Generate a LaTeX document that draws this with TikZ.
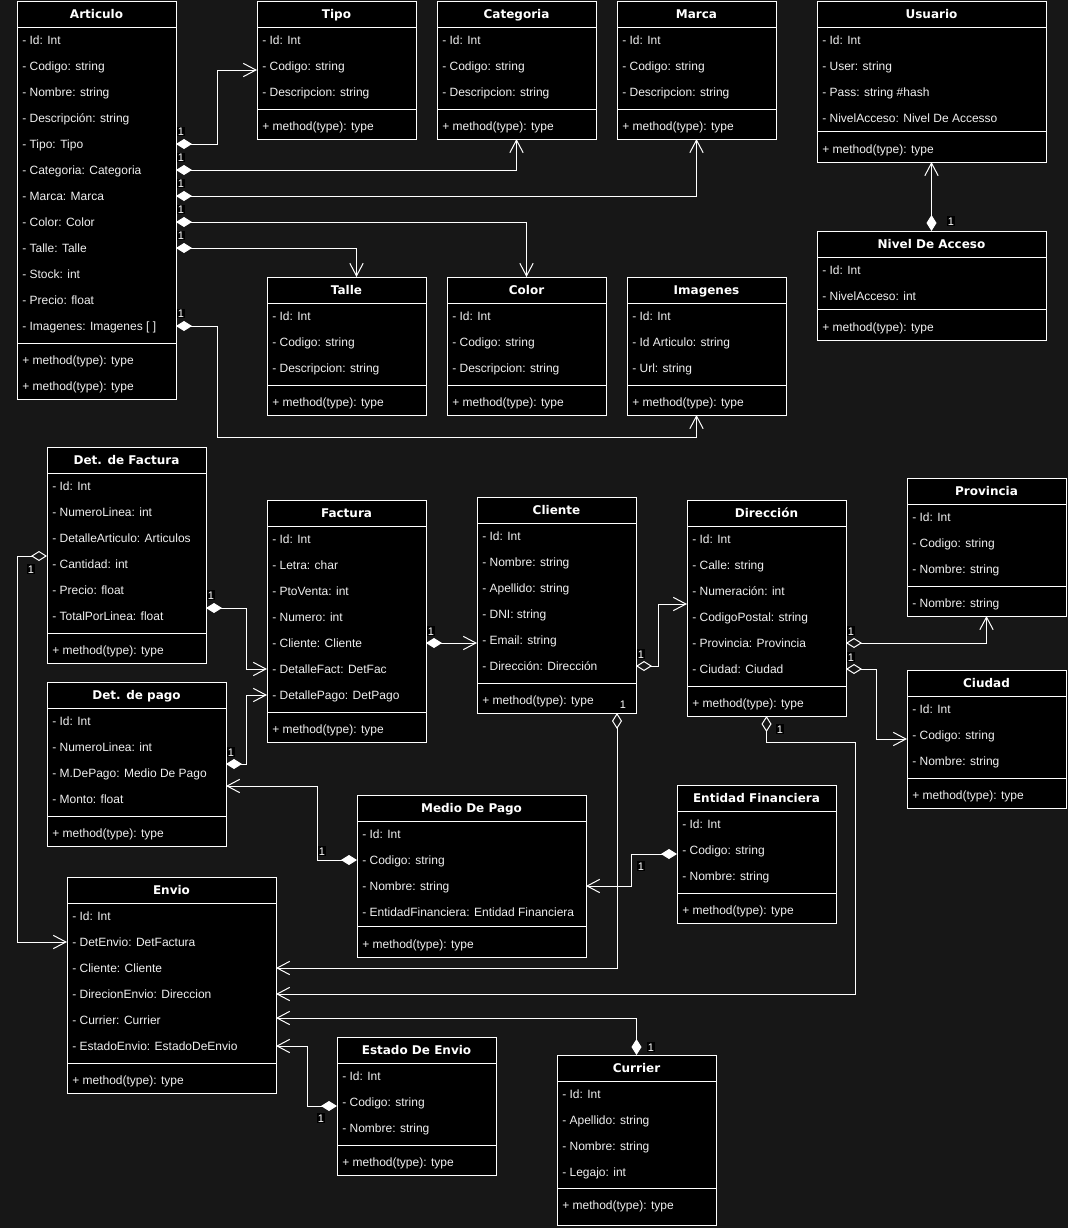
\documentclass[tikz,border=0pt]{standalone}
\usepackage{fontspec}
\setmainfont{Liberation Sans}
\newfontfamily\headfont{DejaVu Sans}
\usetikzlibrary{arrows.meta,calc}

\definecolor{canvas}{HTML}{171717}
\definecolor{ink}{HTML}{F0F0F0}

% per-class layout options: separator offset, gap before methods, extra height
\pgfkeys{/uml/.cd,
  sep/.store in=\umlsep,
  gap/.store in=\umlgap,
  extra/.store in=\umlextra}

\tikzset{
  classbox/.style={draw=white, fill=black, line width=0.75pt, inner sep=0pt,
    outer sep=0pt, anchor=north west},
  divider/.style={draw=white, line width=0.75pt},
  headtext/.style={text=white, font={\headfont\bfseries\fontsize{9pt}{11pt}\selectfont},
    inner sep=0pt, text height=6.5pt, text depth=0pt},
  rowtext/.style={text=ink, font={\fontsize{9pt}{11pt}\selectfont}, inner sep=0pt,
    anchor=west, text height=6.5pt, text depth=0pt},
  link/.style={draw=white, line width=0.75pt},
  comp/.style={link,
    arrows={Diamond[length=12pt,width=7.5pt]-Straight Barb[length=9.5pt,width=10pt]}},
  aggr/.style={link,
    arrows={Diamond[open,length=12pt,width=7.5pt]-Straight Barb[length=9.5pt,width=10pt]}},
  mult/.style={text=white, fill=black, font={\fontsize{8.25pt}{10pt}\selectfont},
    inner sep=0.6pt, text height=6pt, text depth=0pt},
}

% \umlclass[options]{name}{left}{top}{width}{title}{attributes}{methods}
\newcommand\umlclass[8][]{%
  \begingroup
  \pgfkeys{/uml/.cd, sep=4, gap=8, extra=0, #1}%
  \foreach \a [count=\k] in {#7} {\xdef\umlnattr{\k}}%
  \foreach \a [count=\k] in {#8} {\xdef\umlnmeth{\k}}%
  \pgfmathsetmacro\umlrows{#4+26+26*\umlnattr}%
  \pgfmathsetmacro\umlmstart{\umlrows+\umlgap}%
  \pgfmathsetmacro\umlbottom{\umlmstart+26*\umlnmeth+\umlextra}%
  \pgfmathsetmacro\umlheight{\umlbottom-#4}%
  \node[classbox, minimum width=#5*0.75pt, minimum height=\umlheight*0.75pt] (#2) at (#3,#4) {};
  \draw[divider] (#3,#4+26) -- ++(#5,0);
  \draw[divider] (#3,\umlrows+\umlsep) -- ++(#5,0);
  \node[headtext] (#2-t) at (#3+#5/2,#4+13) {#6};
  \foreach \a [count=\i] in {#7} {\node[rowtext] (#2-a\i) at (#3+5,{#4+13+26*\i}) {\a};}
  \foreach \a [count=\i] in {#8} {\node[rowtext] (#2-m\i) at (#3+5,{\umlmstart-13+26*\i}) {\a};}
  \endgroup
}

\def\mt{+ method(type): type}

\begin{document}
\begin{tikzpicture}[x=0.75pt, y=-0.75pt]
\fill[canvas] (0,0) rectangle (1068,1228);
\useasboundingbox (0,0) rectangle (1068,1228);

% ---------- catalogue ----------
\umlclass{art}{17}{1}{159}{Articulo}
  {- Id: Int, - Codigo: string, - Nombre: string, - Descripción: string, - Tipo: Tipo,
   - Categoria: Categoria, - Marca: Marca, - Color: Color, - Talle: Talle, - Stock: int,
   - Precio: float, {- Imagenes: Imagenes [ ]}}
  {\mt, \mt}
\umlclass{tipo}{257}{1}{159}{Tipo}{- Id: Int, - Codigo: string, - Descripcion: string}{\mt}
\umlclass{cat}{437}{1}{159}{Categoria}{- Id: Int, - Codigo: string, - Descripcion: string}{\mt}
\umlclass{marca}{617}{1}{159}{Marca}{- Id: Int, - Codigo: string, - Descripcion: string}{\mt}
\umlclass[sep=0,gap=5]{usu}{817}{1}{229}{Usuario}
  {- Id: Int, - User: string, - Pass: string \#hash, - NivelAcceso: Nivel De Accesso}{\mt}
\umlclass[sep=0,gap=5]{niv}{817}{231}{229}{Nivel De Acceso}{- Id: Int, - NivelAcceso: int}{\mt}
\umlclass{talle}{267}{277}{159}{Talle}{- Id: Int, - Codigo: string, - Descripcion: string}{\mt}
\umlclass{colr}{447}{277}{159}{Color}{- Id: Int, - Codigo: string, - Descripcion: string}{\mt}
\umlclass{img}{627}{277}{159}{Imagenes}{- Id: Int, - Id Articulo: string, - Url: string}{\mt}

% ---------- billing ----------
\umlclass{detfac}{47}{447}{159}{Det. de Factura}
  {- Id: Int, - NumeroLinea: int, - DetalleArticulo: Articulos, - Cantidad: int,
   - Precio: float, - TotalPorLinea: float}{\mt}
\umlclass{fac}{267}{500}{159}{Factura}
  {- Id: Int, - Letra: char, - PtoVenta: int, - Numero: int, - Cliente: Cliente,
   - DetalleFact: DetFac, - DetallePago: DetPago}{\mt}
\umlclass{cli}{477}{497}{159}{Cliente}
  {- Id: Int, - Nombre: string, - Apellido: string, - DNI: string, - Email: string,
   - Dirección: Dirección}{\mt}
\umlclass{dir}{687}{500}{159}{Dirección}
  {- Id: Int, - Calle: string, - Numeración: int, - CodigoPostal: string,
   - Provincia: Provincia, - Ciudad: Ciudad}{\mt}
\umlclass{prov}{907}{478}{159}{Provincia}{- Id: Int, - Codigo: string, - Nombre: string}{- Nombre: string}
\umlclass{ciu}{907}{670}{159}{Ciudad}{- Id: Int, - Codigo: string, - Nombre: string}{\mt}
\umlclass{detpago}{47}{682}{179}{Det. de pago}
  {- Id: Int, - NumeroLinea: int, - M.DePago: Medio De Pago, - Monto: float}{\mt}
\umlclass[sep=1,gap=6]{medio}{357}{795}{229}{Medio De Pago}
  {- Id: Int, - Codigo: string, - Nombre: string, - EntidadFinanciera: Entidad Financiera}{\mt}
\umlclass{ent}{677}{785}{159}{Entidad Financiera}{- Id: Int, - Codigo: string, - Nombre: string}{\mt}

% ---------- shipping ----------
\umlclass{env}{67}{877}{209}{Envio}
  {- Id: Int, - DetEnvio: DetFactura, - Cliente: Cliente, - DirecionEnvio: Direccion,
   - Currier: Currier, - EstadoEnvio: EstadoDeEnvio}{\mt}
\umlclass{est}{337}{1037}{159}{Estado De Envio}{- Id: Int, - Codigo: string, - Nombre: string}{\mt}
\umlclass[sep=3,gap=7,extra=7]{cur}{557}{1055}{159}{Currier}
  {- Id: Int, - Apellido: string, - Nombre: string, - Legajo: int}{\mt}

% ---------- connector start points ----------
\coordinate (s1) at (art.east |- art-a5);
\coordinate (s2) at (art.east |- art-a6);
\coordinate (s3) at (art.east |- art-a7);
\coordinate (s4) at (art.east |- art-a8);
\coordinate (s5) at (art.east |- art-a9);
\coordinate (s6) at (art.east |- art-a12);
\coordinate (s8) at ($(detfac.east |- detfac-a6)+(0,-8)$);
\coordinate (s9) at ($(detpago.east |- detpago-a3)+(0,-9)$);
\coordinate (s10) at (medio.west |- medio-a2);
\coordinate (s11) at (fac.east |- fac-a5);
\coordinate (s12) at (cli.east |- cli-a6);
\coordinate (s13) at (dir.east |- dir-a5);
\coordinate (s14) at (dir.east |- dir-a6);
\coordinate (s15) at ($(cli.south)+(60.5,0)$);
\coordinate (s17) at ($(ent.west |- ent-a2)+(0,4)$);
\coordinate (s19) at ($(est.west |- est-a2)+(0,4)$);
\coordinate (s20) at ($(detfac.west |- detfac-a3)+(0,18)$);

% ---------- connectors ----------
\draw[comp] (s1) -- ++(41,0) |- ($(tipo.west |- tipo-a2)+(0,4)$);
\draw[comp] (s2) -| (cat.south);
\draw[comp] (s3) -| (marca.south);
\draw[comp] (s4) -| (colr.north);
\draw[comp] (s5) -| ($(talle.north)+(10,0)$);
\draw[comp] (s6) -- ++(41,0) -- ++(0,111) -| ($(img.south)+(-10,0)$);
\draw[comp] (niv.north) -- (usu.south);
\draw[comp] (s8) -- ++(40,0) |- (fac.west |- fac-a6);
\draw[comp] (s9) -- ++(20,0) |- (fac.west |- fac-a7);
\draw[comp] (s10) -- ++(-40,0) |- ($(detpago.east |- detpago-a3)+(0,13)$);
\draw[comp] (s11) -- (cli.west |- s11);
\draw[aggr] (s12) -- ++(22,0) |- ($(dir.west |- dir-a4)+(0,-13)$);
\draw[aggr] (s13) -| (prov.south);
\draw[aggr] (s14) -- ++(30,0) |- ($(ciu.west |- ciu-a2)+(0,4)$);
\draw[aggr] (s15) |- (env.east |- env-a3);
\draw[aggr] (dir.south) -- ++(0,26) -- ++(89,0) |- (env.east |- env-a4);
\draw[comp] (s17) -- ++(-46,0) |- (medio.east |- medio-a3);
\draw[comp] (cur.north) |- ($(env.east |- env-a5)+(0,-2)$);
\draw[comp] (s19) -- ++(-30,0) |- (env.east |- env-a6);
\draw[aggr] (s20) -- ++(-30,0) |- (env.west |- env-a2);

% ---------- multiplicities ----------
\node[mult] (m1) at ($(s1)+(5,-12.5)$) {1};
\node[mult] (m2) at ($(s2)+(5,-12.5)$) {1};
\node[mult] (m3) at ($(s3)+(5,-12.5)$) {1};
\node[mult] (m4) at ($(s4)+(5,-12.5)$) {1};
\node[mult] (m5) at ($(s5)+(5,-12.5)$) {1};
\node[mult] (m6) at ($(s6)+(5,-12.5)$) {1};
\node[mult] (m7) at ($(niv.north)+(19.5,-10)$) {1};
\node[mult] (m8) at ($(s8)+(5,-13)$) {1};
\node[mult] (m9) at ($(s9)+(5,-12)$) {1};
\node[mult] (m10) at ($(s10)+(-35,-9)$) {1};
\node[mult] (m11) at ($(s11)+(5,-12)$) {1};
\node[mult] (m12) at ($(s12)+(5,-12)$) {1};
\node[mult] (m13) at ($(s13)+(5,-12)$) {1};
\node[mult] (m14) at ($(s14)+(5,-12)$) {1};
\node[mult] (m15) at ($(s15)+(6,-9)$) {1};
\node[mult] (m16) at ($(dir.south)+(13.5,13)$) {1};
\node[mult] (m17) at ($(s17)+(-36,12)$) {1};
\node[mult] (m18) at ($(cur.north)+(14.5,-8)$) {1};
\node[mult] (m19) at ($(s19)+(-16,12)$) {1};
\node[mult] (m20) at ($(s20)+(-16,13)$) {1};
\end{tikzpicture}
\end{document}
